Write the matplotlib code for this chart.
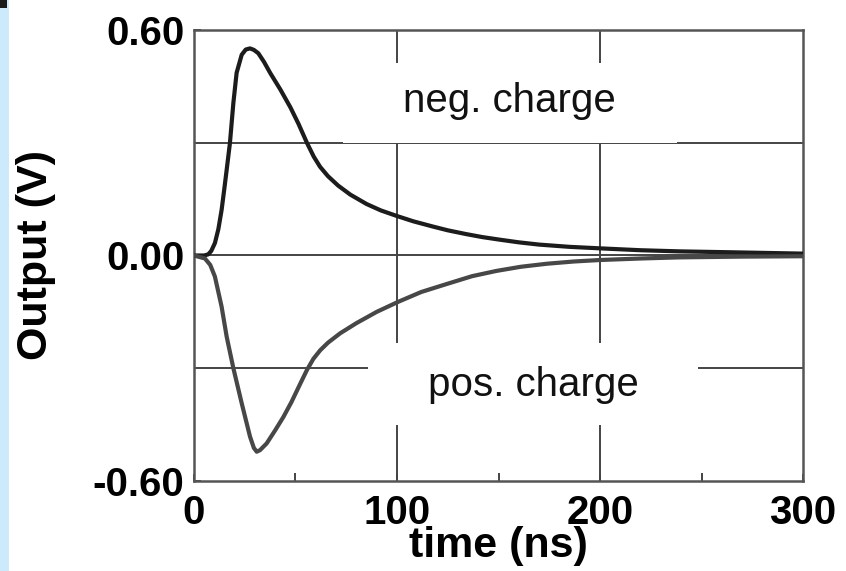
import numpy as np
import matplotlib
matplotlib.use("Agg")
from matplotlib import pyplot as plt
from matplotlib.patches import Rectangle

plt.rcParams['font.family'] = ['Liberation Sans', 'DejaVu Sans']

# output pulse for a negative charge (ns, V)
t_neg = [0, 5, 7, 8.5, 10.3, 12, 13.6, 15, 16.1, 17.7, 19.4, 21.0, 23.5, 25.5,
         27.6, 29.5, 31.7, 34.5, 37.6, 42.5, 47.5, 51.5, 55.7, 59, 62.1, 66,
         71, 77, 85, 92, 100, 108, 117.7, 125, 134, 142, 150.7, 160, 170, 185,
         200, 220, 239, 260, 280, 300]
v_neg = [0, 0, 0.003, 0.012, 0.033, 0.07, 0.121, 0.18, 0.228, 0.299, 0.406,
         0.486, 0.534, 0.548, 0.551, 0.547, 0.538, 0.515, 0.485, 0.442, 0.394,
         0.350, 0.299, 0.263, 0.236, 0.211, 0.186, 0.162, 0.137, 0.120, 0.105,
         0.091, 0.077, 0.067, 0.057, 0.049, 0.042, 0.035, 0.029, 0.023, 0.019,
         0.014, 0.011, 0.009, 0.007, 0.005]

# output pulse for a positive charge
t_pos = [0, 5.4, 8, 10.3, 13.6, 16.1, 19.4, 23.5, 27.6, 29.5, 30.9, 32.5, 35.8,
         40, 44, 48, 52, 55.6, 58.8, 62.2, 66, 72, 80, 90, 100.7, 112, 124.4,
         137, 149, 161, 173.7, 187, 200, 220, 239, 270, 300]
v_pos = [0, -0.008, -0.025, -0.056, -0.136, -0.216, -0.300, -0.393, -0.482,
         -0.512, -0.522, -0.518, -0.500, -0.465, -0.430, -0.390, -0.345,
         -0.305, -0.275, -0.252, -0.232, -0.207, -0.180, -0.150, -0.123,
         -0.097, -0.076, -0.055, -0.041, -0.030, -0.022, -0.016, -0.012,
         -0.008, -0.005, -0.003, -0.002]

x_ticks = [0, 100, 200, 300]
y_ticks = [-0.6, 0.0, 0.6]
y_ticklabels = ['-0.60', '0.00', '0.60']
grid_t = [100, 200]
grid_v = [-0.3, 0.0, 0.3]

fig = plt.figure(figsize=(8.46, 5.71), dpi=100)
ax = fig.add_axes([0.2293, 0.1576, 0.7199, 0.7899])

# light blue strip along the left edge
fig.patches.append(Rectangle((0, 0), 9 / 846, 1, transform=fig.transFigure,
                             facecolor='#cde9fc', edgecolor='none', zorder=0))
fig.patches.append(Rectangle((0, 1 - 8 / 571), 7 / 846, 8 / 571,
                             transform=fig.transFigure, facecolor='#1a1a1a',
                             edgecolor='none', zorder=0))

for t in grid_t:
    ax.axvline(t, color='#444444', lw=1.4, zorder=1)
for v in grid_v:
    ax.axhline(v, color='#444444', lw=1.4, zorder=1)

# white panels behind the labels
ax.add_patch(Rectangle((73.4, 0.30), 164.6, 0.212, facecolor='white',
                       edgecolor='none', zorder=2))
ax.add_patch(Rectangle((85.7, -0.451), 162.6, 0.218, facecolor='white',
                       edgecolor='none', zorder=2))
ax.text(155.5, 0.41, 'neg. charge', fontsize=29, ha='center', va='center',
        color='#111111', zorder=3)
ax.text(167, -0.345, 'pos. charge', fontsize=29, ha='center', va='center',
        color='#111111', zorder=3)

ax.plot(t_neg, v_neg, color='#1c1c1c', lw=3.0, zorder=4,
        solid_joinstyle='round')
ax.plot(t_pos, v_pos, color='#474747', lw=3.0, zorder=4,
        solid_joinstyle='round')

ax.set_xlim(0, 300)
ax.set_ylim(-0.6, 0.6)
ax.set_xticks(x_ticks)
ax.set_xticks([50, 150, 250], minor=True)
ax.set_yticks(y_ticks)
ax.set_yticklabels(y_ticklabels)
ax.tick_params(axis='both', which='major', direction='in', length=5,
               width=1.4, color='#444444', labelsize=29, pad=7)
ax.tick_params(axis='x', which='major', pad=9)
ax.tick_params(axis='x', which='minor', direction='in', length=6,
               width=1.4, color='#444444')
for lab in ax.get_xticklabels() + ax.get_yticklabels():
    lab.set_fontweight('bold')

for s in ax.spines.values():
    s.set_color('#555555')
    s.set_linewidth(1.8)

ax.set_xlabel('time (ns)', fontsize=31, fontweight='bold', labelpad=-4)
ax.set_ylabel('Output (V)', fontsize=31, fontweight='bold', labelpad=26)

fig.savefig('out.png', dpi=100)
